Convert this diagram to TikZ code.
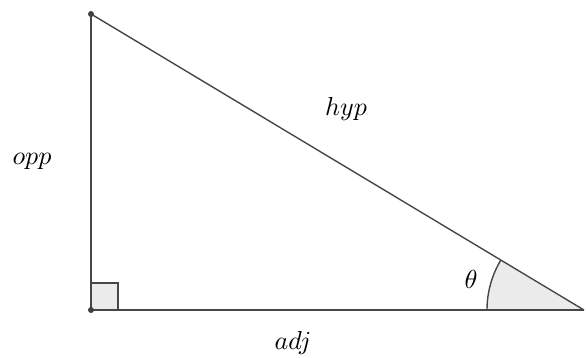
\documentclass[tikz,border=0pt]{standalone}
\begin{document}
\begin{tikzpicture}[x=1pt,y=1pt,
  edge/.style={draw=black!72, line width=1.4pt},
  lbl/.style={anchor=base, scale=2.6, inner sep=0pt, text=black},
  vdot/.style={circle, fill=black!75, inner sep=0pt, minimum size=6pt},
  shade/.style={fill=black!8}]
\useasboundingbox (0,0) rectangle (586,358);
\coordinate (A) at (91,344);
\coordinate (B) at (91,48);
\coordinate (C) at (584,48);
% right-angle mark
\filldraw[shade, edge] (B) rectangle ++(27,27);
% angle mark
\fill[shade] (C) -- ++(180:97) arc[start angle=180, end angle=149.02, radius=97] -- cycle;
\draw[edge] (C) ++(180:97) arc[start angle=180, end angle=149.02, radius=97];
% sides
\draw[edge] (A) -- (B);
\draw[edge] (B) -- (C);
\draw[edge] (C) -- (A);
\node[vdot] (dA) at (A) {};
\node[vdot] (dB) at (B) {};
% labels
\node[lbl] (opp) at (32,193) {$opp$};
\node[lbl] (hyp) at (346,242) {$hyp$};
\node[lbl] (adj) at (293,8) {$adj$};
\node[lbl] (th) at (471,69) {$\theta$};
\end{tikzpicture}
\end{document}
